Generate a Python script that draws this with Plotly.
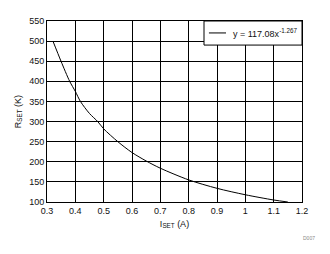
import plotly.graph_objects as go

# Data
i_set = [0.321, 0.3495, 0.38, 0.40, 0.418, 0.45, 0.479, 0.5, 0.55, 0.6, 0.65, 0.7, 0.8, 0.9, 1.0, 1.1, 1.15]
r_set = [500, 450, 400, 375, 350, 320, 300, 282, 250, 223, 202, 184, 155, 134, 118, 105, 100]

x_ticks = [0.3, 0.4, 0.5, 0.6, 0.7, 0.8, 0.9, 1.0, 1.1, 1.2]
x_tick_text = ["0.3", "0.4", "0.5", "0.6", "0.7", "0.8", "0.9", "1", "1.1", "1.2"]
y_ticks = [100, 150, 200, 250, 300, 350, 400, 450, 500, 550]
legend_label = "y = 117.08x<sup>-1.267</sup>"

font = "Liberation Sans, Arial, sans-serif"

fig = go.Figure()
fig.add_trace(go.Scatter(
    x=i_set, y=r_set, mode="lines",
    line=dict(color="black", width=1, shape="spline", smoothing=0.8),
    name=legend_label, showlegend=False,
))

fig.update_layout(
    width=330, height=254,
    margin=dict(l=47, r=28, t=21, b=52),
    paper_bgcolor="white", plot_bgcolor="white",
    font=dict(family=font, size=9, color="#111"),
    showlegend=False,
    xaxis=dict(range=[0.3, 1.2], tickvals=x_ticks, ticktext=x_tick_text,
               showgrid=True, gridcolor="black", gridwidth=1,
               showline=True, linecolor="black", linewidth=1, mirror=True,
               zeroline=False, ticks="", ticklen=0,
               title=dict(text="I<sub>SET</sub> (A)", font=dict(size=9), standoff=5)),
    yaxis=dict(range=[100, 550], tickvals=y_ticks,
               showgrid=True, gridcolor="black", gridwidth=1,
               showline=True, linecolor="black", linewidth=1, mirror=True,
               zeroline=False, ticks="", ticklen=0,
               title=dict(text="R<sub>SET</sub> (K)", font=dict(size=9), standoff=6)),
    shapes=[
        dict(type="rect", xref="paper", yref="paper", x0=0.6157, x1=1.0, y0=0.867, y1=1.0,
             fillcolor="white", line=dict(color="black", width=1), layer="above"),
        dict(type="line", xref="paper", yref="paper", x0=0.635, x1=0.702, y0=0.934, y1=0.934,
             line=dict(color="black", width=1), layer="above"),
    ],
    annotations=[
        dict(text=legend_label, xref="paper", yref="paper", x=0.7216, y=0.934,
             xanchor="left", yanchor="middle", showarrow=False,
             font=dict(size=9, color="#111")),
        dict(text="D007", xref="paper", yref="paper", x=1.06, y=-0.17,
             xanchor="right", yanchor="top", showarrow=False,
             font=dict(size=5, color="#888")),
    ],
)

fig.write_html("out.html")
